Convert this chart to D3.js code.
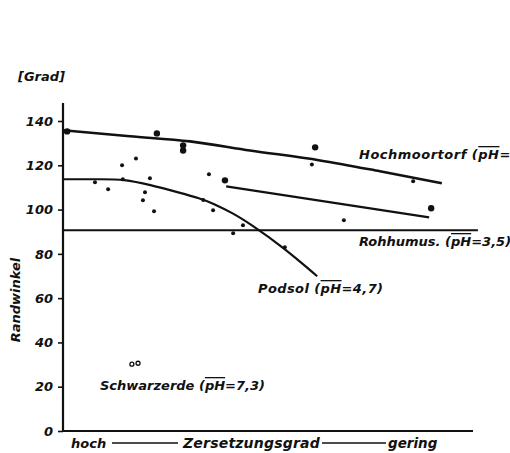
<!DOCTYPE html>
<html>
<head>
<meta charset="utf-8">
<script src="https://cdn.jsdelivr.net/npm/d3@7"></script>
<style>
  html, body { margin: 0; padding: 0; background: #fff; }
  svg { display: block; }
  text { font-family: "DejaVu Sans", sans-serif; font-style: oblique; font-weight: bold; fill: #111; }
</style>
</head>
<body>
<svg id="chart" width="510" height="453"></svg>
<script>
// Randwinkel (contact angle) vs. degree of decomposition
const yTicks = [0, 20, 40, 60, 80, 100, 120, 140];

// Hochmoortorf trend line (x: relative decomposition, y: Grad)
const hochmoorX = [0, 16.3, 31, 45.6, 62.7, 77.3, 92.4];
const hochmoorY = [135.8, 133.1, 130.8, 126.7, 122.2, 117.3, 111.9];

// Second Rohhumus trend line
const rohhumusX = [39.8, 89.3];
const rohhumusY = [110.5, 96.5];

// Rohhumus mean level
const rohhumusLevel = 90.7;
const rohhumusLevelX = [0, 101.2];

// Podsol curve
const podsolX = [0, 10, 14.6, 21.2, 28.5, 33.4, 36.6, 41.5, 45.6, 53.7, 62];
const podsolY = [113.7, 113.7, 113.7, 111.2, 107.6, 105.1, 102.8, 98.3, 93.6, 83, 69.9];

// Measured points: large dots
const bigX = [1, 22.9, 61.5, 89.8, 39.5, 29.3, 29.3];
const bigY = [135.3, 134.4, 128.1, 100.6, 113.2, 129, 126.7];

// Measured points: small dots
const smallX = [17.8, 14.4, 7.8, 11, 21.2, 20, 19.5, 22.2, 35.6, 36.6, 60.7, 85.4, 68.5, 54.1, 43.9, 41.5, 14.6, 34.2];
const smallY = [123.1, 120, 112.3, 109.2, 114.1, 107.8, 104.2, 99.2, 115.9, 99.7, 120.4, 112.8, 95.2, 83, 92.9, 89.3, 113.7, 104.3];

// Schwarzerde points (open circles)
const schwarzX = [16.8, 18.3];
const schwarzY = [30.2, 30.6];

const svg = d3.select("#chart");
const x = d3.scaleLinear().domain([0, 100]).range([63, 473]);
const y = d3.scaleLinear().domain([0, 140]).range([431, 121]);

// Axes
svg.append("line").attr("x1", x(0)).attr("x2", x(0)).attr("y1", 103).attr("y2", y(0) + 1)
  .attr("stroke", "#111").attr("stroke-width", 2.2);
svg.append("line").attr("x1", x(0)).attr("x2", x(100)).attr("y1", y(0)).attr("y2", y(0))
  .attr("stroke", "#111").attr("stroke-width", 2.2);

const yAxis = svg.append("g").attr("transform", `translate(${x(0)},0)`)
  .call(d3.axisLeft(y).tickValues(yTicks).tickSize(5).tickPadding(5));
yAxis.select(".domain").remove();
yAxis.selectAll(".tick line").attr("stroke", "#111").attr("stroke-width", 1.6);
yAxis.selectAll(".tick text")
  .attr("font-family", "DejaVu Sans, sans-serif").attr("font-size", 13)
  .style("font-style", "oblique").style("font-weight", "bold").attr("fill", "#111");

// Trend lines
const line = d3.line().x(d => x(d[0])).y(d => y(d[1]));
const smooth = d3.line().x(d => x(d[0])).y(d => y(d[1])).curve(d3.curveMonotoneX);
const soft = d3.line().x(d => x(d[0])).y(d => y(d[1])).curve(d3.curveBasis);

svg.append("path").datum(d3.zip(hochmoorX, hochmoorY)).attr("d", smooth)
  .attr("fill", "none").attr("stroke", "#111").attr("stroke-width", 2.6);
svg.append("path").datum(d3.zip(rohhumusX, rohhumusY)).attr("d", line)
  .attr("fill", "none").attr("stroke", "#111").attr("stroke-width", 2.2);
svg.append("path").datum(rohhumusLevelX.map(v => [v, rohhumusLevel])).attr("d", line)
  .attr("fill", "none").attr("stroke", "#111").attr("stroke-width", 2);
svg.append("path").datum(d3.zip(podsolX, podsolY)).attr("d", soft)
  .attr("fill", "none").attr("stroke", "#111").attr("stroke-width", 2.2);

// Points
svg.append("g").selectAll("circle").data(d3.zip(bigX, bigY)).join("circle")
  .attr("cx", d => x(d[0])).attr("cy", d => y(d[1])).attr("r", 3.2).attr("fill", "#111");
svg.append("g").selectAll("circle").data(d3.zip(smallX, smallY)).join("circle")
  .attr("cx", d => x(d[0])).attr("cy", d => y(d[1])).attr("r", 2).attr("fill", "#111");
svg.append("g").selectAll("circle").data(d3.zip(schwarzX, schwarzY)).join("circle")
  .attr("cx", d => x(d[0])).attr("cy", d => y(d[1])).attr("r", 2)
  .attr("fill", "#fff").attr("stroke", "#111").attr("stroke-width", 1.3);

// Labels with overlined pH
function phLabel(px, py, name, value) {
  const t = svg.append("text").attr("x", px).attr("y", py).attr("font-size", 13);
  t.append("tspan").text(name + " (");
  t.append("tspan").attr("text-decoration", "overline").text("pH");
  t.append("tspan").text("=" + value);
  return t;
}
phLabel(359, 159, "Hochmoortorf", "").attr("letter-spacing", 0.5);
phLabel(359, 246, "Rohhumus.", "3,5)");
phLabel(258, 293, "Podsol", "4,7)").attr("letter-spacing", 0.4);
phLabel(100, 390, "Schwarzerde", "7,3)");

svg.append("text").attr("x", 18).attr("y", 81).attr("font-size", 13).text("[Grad]");
svg.append("text").attr("transform", "translate(20,300) rotate(-90)")
  .attr("text-anchor", "middle").attr("font-size", 13).attr("font-weight", "normal").text("Randwinkel");

// X axis caption: hoch ---- Zersetzungsgrad ---- gering
const cap = 448;
svg.append("text").attr("x", 71).attr("y", cap).attr("font-size", 13).text("hoch");
svg.append("line").attr("x1", 112).attr("x2", 178).attr("y1", cap - 5).attr("y2", cap - 5)
  .attr("stroke", "#111").attr("stroke-width", 1.6);
svg.append("text").attr("x", 183).attr("y", cap).attr("font-size", 14).attr("letter-spacing", 0.2).text("Zersetzungsgrad");
svg.append("line").attr("x1", 322).attr("x2", 386).attr("y1", cap - 5).attr("y2", cap - 5)
  .attr("stroke", "#111").attr("stroke-width", 1.6);
svg.append("text").attr("x", 388).attr("y", cap).attr("font-size", 13.5).text("gering");
</script>
</body>
</html>
